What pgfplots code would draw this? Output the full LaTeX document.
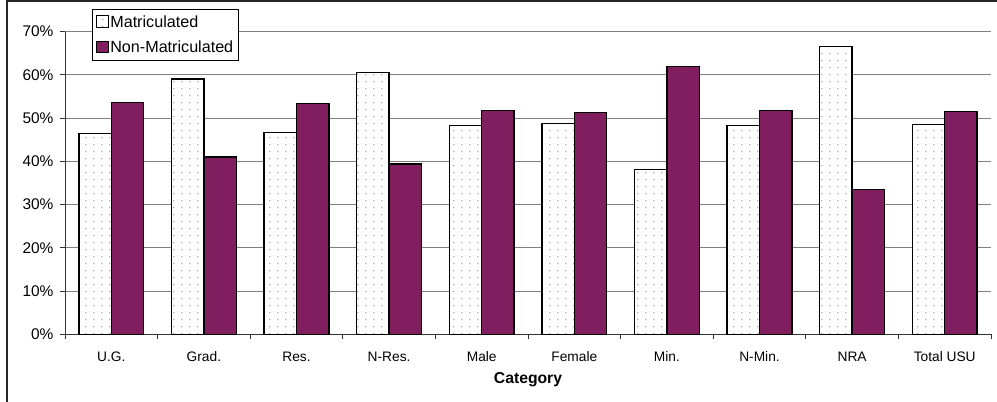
\documentclass[border=0pt]{standalone}
\usepackage{pgfplots}
\pgfplotsset{compat=1.18}
\usepackage{fontspec}
\setmainfont{Liberation Sans}
\usetikzlibrary{patterns.meta}
\definecolor{nonmat}{RGB}{128,30,96}
\tikzdeclarepattern{
  name=sparsedots,
  type=uncolored,
  bottom left={(0bp,0bp)},
  top right={(8.3bp,7.3bp)},
  tile size={(8.3bp,7.3bp)},
  code={\fill (4.15bp,3.65bp) circle (0.85bp);}
}
\begin{document}
\begin{tikzpicture}
\useasboundingbox (-65bp,-67.7bp) rectangle (932bp,334.3bp);
\draw[line width=1.2bp, black!85] (-58bp,-90bp) -- (-58bp,333.3bp) -- (950bp,333.3bp);
\begin{axis}[
  at={(0bp,0bp)}, anchor=south west,
  scale only axis,
  width=926bp, height=302.8bp,
  xmin=-0.5, xmax=9.5,
  ymin=0, ymax=70,
  axis lines*=left,
  axis line style={black!80, line width=0.8bp},
  xtick={-0.5,0.5,...,9.5},
  x tick label as interval,
  xticklabels={U.G.,Grad.,Res.,N-Res.,Male,Female,Min.,N-Min.,NRA,Total USU},
  ytick={0,10,...,70},
  yticklabel={\pgfmathprintnumber{\tick}\%},
  /pgf/number format/assume math mode=true,
  tick align=outside,
  major tick length=5bp,
  tick style={black!80, line width=0.7bp},
  ymajorgrids,
  grid style={gray, line width=0.8bp},
  yticklabel style={font=\fontsize{15.5}{18}\selectfont, xshift=-3bp},
  xticklabel style={font=\fontsize{13.8}{16}\selectfont, yshift=-9bp},
  xlabel={\textbf{Category}},
  xlabel style={font=\fontsize{15.8}{18}\selectfont, at={(rel axis cs:0.5,0)}, anchor=base, yshift=-49.6bp},
  bar width=0.35,
  legend style={at={(rel axis cs:0.0292,1.0745)}, anchor=north west,
    draw=black, line width=0.8bp, fill=white,
    font=\fontsize{16.2}{19}\selectfont,
    inner xsep=4bp, inner ysep=5bp, row sep=9bp,
    nodes={inner sep=1.5bp}},
  legend cell align=left,
  legend image code/.code={\draw[#1, line width=0.9bp] (0bp,-5bp) rectangle (11.5bp,6.5bp);},
]
\addplot[ybar, bar shift=-0.175, draw=black, line width=1.3bp, fill=white,
  postaction={pattern=sparsedots, pattern color=black!35}]
  coordinates {(0,46.4) (1,59.0) (2,46.7) (3,60.6) (4,48.2) (5,48.7) (6,38.1) (7,48.2) (8,66.6) (9,48.5)};
\addlegendentry{Matriculated}
\addplot[ybar, bar shift=0.175, draw=black, line width=1.3bp, fill=nonmat]
  coordinates {(0,53.6) (1,41.0) (2,53.3) (3,39.4) (4,51.8) (5,51.3) (6,61.9) (7,51.8) (8,33.4) (9,51.5)};
\addlegendentry{Non-Matriculated}
\end{axis}
\end{tikzpicture}
\end{document}
